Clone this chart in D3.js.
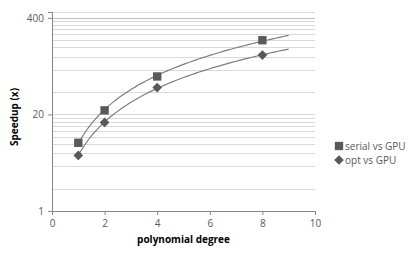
<!DOCTYPE html>
<html>
<head>
<meta charset="utf-8">
<script src="https://cdn.jsdelivr.net/npm/d3@7"></script>
<style>
  body { margin: 0; background: #fff; }
  text { font-family: "Open Sans", "Liberation Sans", sans-serif; }
</style>
</head>
<body>
<div id="chart"></div>
<script>
const degrees = [1, 2, 4, 8];
const serialVsGpu = [8.3, 22.7, 65, 200];
const optVsGpu = [5.6, 15.6, 46, 126];
const seriesNames = ["serial vs GPU", "opt vs GPU"];
const xTicks = [0, 2, 4, 6, 8, 10];
const yTicks = [1, 20, 400];
const yMinor = [2, 4, 6, 8, 10, 12, 14, 16, 18, 40, 80, 120, 160, 200, 240, 280, 320, 360];

const width = 408, height = 258;
const margin = { top: 12, right: 93, bottom: 47, left: 52 };
const chartWidth = width - margin.left - margin.right;
const chartHeight = height - margin.top - margin.bottom;
const yMax = 480;

const svg = d3.select("#chart").append("svg")
  .attr("width", width).attr("height", height);

const xScale = d3.scaleLinear().domain([0, 10]).range([0, chartWidth]);
const yScale = d3.scaleLog().base(20).domain([1, yMax]).range([chartHeight, 0]);

const g = svg.append("g").attr("transform", `translate(${margin.left},${margin.top})`);

// gridlines
g.selectAll("line.grid")
  .data(yMinor.concat(yTicks.slice(1), [yMax]))
  .enter().append("line")
  .attr("class", "grid")
  .attr("x1", 0).attr("x2", chartWidth)
  .attr("y1", d => Math.round(yScale(d)) + 0.5)
  .attr("y2", d => Math.round(yScale(d)) + 0.5)
  .attr("stroke", d => d === 400 ? "#bfbfbf" : "#d9d9d9")
  .attr("stroke-width", 1);

// axes
const xAxis = g.append("g")
  .attr("transform", `translate(0,${chartHeight})`)
  .call(d3.axisBottom(xScale).tickValues(xTicks).tickSize(4).tickPadding(5));
const yAxis = g.append("g")
  .call(d3.axisLeft(yScale).tickValues(yTicks).tickFormat(d3.format("d")).tickSize(4).tickPadding(4));

[xAxis, yAxis].forEach(a => {
  a.select(".domain").attr("stroke", "#868686");
  a.selectAll(".tick line").attr("stroke", "#868686");
  a.selectAll(".tick text").attr("fill", "#595959").style("font-size", "10px");
});

// power trendlines fitted to each series
const powerFit = (xs, ys) => {
  const lx = xs.map(Math.log), ly = ys.map(Math.log);
  const mx = d3.mean(lx), my = d3.mean(ly);
  const b = d3.sum(lx, (v, i) => (v - mx) * (ly[i] - my)) / d3.sum(lx, v => (v - mx) * (v - mx));
  const a = Math.exp(my - b * mx);
  return x => a * Math.pow(x, b);
};

const line = d3.line().x(d => xScale(d[0])).y(d => yScale(d[1]));
const series = [serialVsGpu, optVsGpu];
series.forEach(vals => {
  const f = powerFit(degrees, vals);
  const pts = d3.range(1, 9.01, 0.1).map(x => [x, f(x)]);
  g.append("path").attr("d", line(pts))
    .attr("fill", "none").attr("stroke", "#7f7f7f").attr("stroke-width", 1.2);
});

const markerColor = "#595959";
const square = d3.symbol().type(d3.symbolSquare).size(70);
const diamond = d3.symbol().type(d3.symbolDiamond2).size(60);
const symbols = [square, diamond];

series.forEach((vals, s) => {
  g.selectAll(`path.m${s}`)
    .data(vals)
    .enter().append("path")
    .attr("class", `m${s}`)
    .attr("d", symbols[s])
    .attr("transform", (d, i) => `translate(${xScale(degrees[i])},${yScale(d)})`)
    .attr("fill", markerColor);
});

// axis titles
svg.append("text")
  .attr("x", margin.left + chartWidth / 2).attr("y", 243)
  .attr("text-anchor", "middle")
  .style("font-size", "10px").style("font-weight", "bold")
  .text("polynomial degree");
svg.append("text")
  .attr("transform", `translate(18,${margin.top + 105}) rotate(-90)`)
  .attr("text-anchor", "middle")
  .style("font-size", "10px").style("font-weight", "bold")
  .text("Speedup (x)");

// legend
const legend = svg.append("g").attr("transform", "translate(339,146)");
seriesNames.forEach((name, i) => {
  legend.append("path")
    .attr("d", symbols[i])
    .attr("transform", `translate(0,${i * 14})`)
    .attr("fill", markerColor);
  legend.append("text")
    .attr("x", 6).attr("y", i * 14 + 3.5)
    .attr("fill", "#595959")
    .style("font-size", "10px")
    .text(name);
});
</script>
</body>
</html>
